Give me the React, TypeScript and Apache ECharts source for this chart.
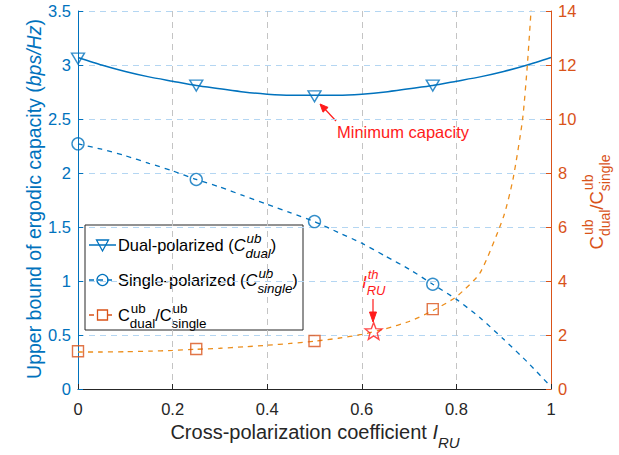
import React, { useEffect, useRef } from "react";
import * as echarts from "echarts";

// ---------- data ----------
const xFine = [0, 0.05, 0.1, 0.15, 0.2, 0.25, 0.3, 0.35, 0.4, 0.45, 0.5, 0.55, 0.6, 0.65, 0.7, 0.75, 0.8, 0.85, 0.9, 0.95, 1.0];
const dualCurve = [3.07, 3.0, 2.94, 2.89, 2.85, 2.81, 2.78, 2.75, 2.73, 2.72, 2.72, 2.72, 2.73, 2.75, 2.78, 2.81, 2.85, 2.89, 2.94, 3.0, 3.07];
const singleCurve = [2.27, 2.22, 2.16, 2.09, 2.02, 1.94, 1.87, 1.79, 1.71, 1.63, 1.55, 1.45, 1.35, 1.23, 1.11, 0.97, 0.83, 0.66, 0.46, 0.25, 0.02];
const ratioX = [0, 0.05, 0.1, 0.15, 0.2, 0.25, 0.3, 0.35, 0.4, 0.45, 0.5, 0.55, 0.6, 0.65, 0.7, 0.75, 0.8, 0.85, 0.9, 0.92, 0.94, 0.95, 0.96];
const ratioCurve = [1.37, 1.37, 1.38, 1.4, 1.43, 1.47, 1.51, 1.56, 1.62, 1.69, 1.77, 1.88, 2.02, 2.23, 2.5, 2.9, 3.42, 4.3, 6.4, 7.8, 10.0, 12.0, 14.6];
const markerX = [0, 0.25, 0.5, 0.75];
const dualMarkers = [3.06, 2.81, 2.71, 2.81];
const singleMarkers = [2.27, 1.94, 1.55, 0.97];
const ratioMarkers = [1.4, 1.48, 1.78, 2.96];
const thresholdX = [0.625];
const thresholdRatio = [2.15];

const FONT = '"Liberation Sans", Arial, Helvetica, sans-serif';
const BLUE = "#0072BD";
const ORANGE = "#D95319";
const LINE_ORANGE = "#EC8E1C";
const RED = "#FF1A1A";
const DARK = "#262626";

let measureCtx: CanvasRenderingContext2D | null = null;
function measure(text: string, size: number, italic: boolean) {
  if (!measureCtx) measureCtx = document.createElement("canvas").getContext("2d");
  measureCtx!.font = `${italic ? "italic " : ""}${size}px ${FONT}`;
  return measureCtx!.measureText(text).width;
}

type Part = { t?: string; sup?: string; sub?: string; italic?: boolean };

function layout(parts: Part[], base: number, small: number, color: string, supDy: number, subDy: number) {
  const els: any[] = [];
  let x = 0;
  const txt = (text: string, px: number, py: number, size: number, italic: boolean) => ({
    type: "text",
    x: px,
    y: py,
    style: {
      text,
      fill: color,
      fontSize: size,
      fontFamily: FONT,
      fontStyle: italic ? "italic" : "normal",
      verticalAlign: "middle",
      align: "left",
    },
  });
  for (const p of parts) {
    const it = !!p.italic;
    if (p.t !== undefined) {
      els.push(txt(p.t, x, 0, base, it));
      x += measure(p.t, base, it);
    } else {
      let w = 0;
      if (p.sup) {
        els.push(txt(p.sup, x + 1, supDy, small, it));
        w = Math.max(w, measure(p.sup, small, it) + 1);
      }
      if (p.sub) {
        els.push(txt(p.sub, x, subDy, small, it));
        w = Math.max(w, measure(p.sub, small, it));
      }
      x += w;
    }
  }
  return { els, width: x };
}

function placed(parts: Part[], base: number, small: number, color: string, supDy: number, subDy: number, x: number, y: number, anchor: "left" | "center", rotation = 0) {
  const { els, width } = layout(parts, base, small, color, supDy, subDy);
  const shift = anchor === "center" ? -width / 2 : 0;
  els.forEach((e) => (e.x += shift));
  return { type: "group", x, y, rotation, children: els };
}

export default function App() {
  const ref = useRef<HTMLDivElement>(null);

  useEffect(() => {
    if (!ref.current) return;
    const chart = echarts.init(ref.current, null, { renderer: "svg" });

    const triangleDown = (cx: number, cy: number) => ({
      type: "polygon",
      shape: { points: [[cx - 6, cy - 5], [cx + 6, cy - 5], [cx, cy + 6]] },
      style: { fill: "none", stroke: BLUE, lineWidth: 1.3 },
    });

    const legendRows = [245, 280, 315];
    const legendGraphic: any[] = [
      { type: "rect", shape: { x: 85, y: 225, width: 218, height: 105 }, style: { fill: "#fff", stroke: DARK, lineWidth: 1 } },
      { type: "line", shape: { x1: 89, y1: legendRows[0], x2: 116, y2: legendRows[0] }, style: { stroke: BLUE, lineWidth: 1.5 } },
      triangleDown(102.5, legendRows[0]),
      { type: "line", shape: { x1: 89, y1: legendRows[1], x2: 116, y2: legendRows[1] }, style: { stroke: BLUE, lineWidth: 1.3, lineDash: [5, 4] } },
      { type: "circle", shape: { cx: 102.5, cy: legendRows[1], r: 5.5 }, style: { fill: "none", stroke: BLUE, lineWidth: 1.3 } },
      { type: "line", shape: { x1: 89, y1: legendRows[2], x2: 116, y2: legendRows[2] }, style: { stroke: ORANGE, lineWidth: 1.3, lineDash: [5, 4] } },
      { type: "rect", shape: { x: 97.5, y: legendRows[2] - 5, width: 10, height: 10 }, style: { fill: "#fff", stroke: ORANGE, lineWidth: 1.3 } },
      placed([{ t: "Dual-polarized (" }, { t: "C", italic: true }, { sup: "ub", sub: "dual", italic: true }, { t: ")" }], 16.4, 13.4, "#000", -7, 8, 118, legendRows[0], "left"),
      placed([{ t: "Single-polarized (" }, { t: "C", italic: true }, { sup: "ub", sub: "single", italic: true }, { t: ")" }], 16.4, 13.4, "#000", -7, 8, 118, legendRows[1], "left"),
      placed([{ t: "C" }, { sup: "ub", sub: "dual" }, { t: "/C" }, { sup: "ub", sub: "single" }], 16.4, 13.4, "#000", -7, 8, 118, legendRows[2], "left"),
    ];

    const annotations: any[] = [
      // Minimum capacity arrow
      { type: "line", shape: { x1: 336, y1: 121, x2: 323, y2: 107 }, style: { stroke: RED, lineWidth: 1.2 } },
      { type: "polygon", shape: { points: [[320, 104], [328.1, 107.4], [323, 112.2]] }, style: { fill: RED, stroke: RED, lineWidth: 1 } },
      { type: "text", x: 337, y: 132, style: { text: "Minimum capacity", fill: RED, fontSize: 16.5, fontFamily: FONT, verticalAlign: "middle" } },
      // threshold label and arrow
      placed([{ t: "I", italic: true }, { sup: "th", sub: "RU", italic: true }], 17, 13, RED, -8, 8, 362, 282, "left"),
      { type: "line", shape: { x1: 373, y1: 299, x2: 373, y2: 316 }, style: { stroke: RED, lineWidth: 1.2 } },
      { type: "polygon", shape: { points: [[373, 322], [369.5, 312], [376.5, 312]] }, style: { fill: RED, stroke: RED, lineWidth: 1 } },
    ];

    const titles: any[] = [
      placed([{ t: "Cross-polarization coefficient " }, { t: "I", italic: true }, { sub: "RU", italic: true }], 20, 15, DARK, -8, 10, 315, 432, "center"),
      placed([{ t: "Upper bound of ergodic capacity (" }, { t: "bps/Hz", italic: true }, { t: ")" }], 19.5, 15, BLUE, -8, 8, 34, 199, "center", Math.PI / 2),
      placed([{ t: "C" }, { sup: "ub", sub: "dual" }, { t: "/C" }, { sup: "ub", sub: "single" }], 18.5, 14, ORANGE, -8, 9, 596, 202, "center", Math.PI / 2),
    ];

    const option: any = {
      animation: false,
      backgroundColor: "#fff",
      grid: { left: 78, right: 68, top: 11, bottom: 66, containLabel: false },
      xAxis: {
        type: "value",
        min: 0,
        max: 1,
        interval: 0.2,
        axisLine: { show: true, lineStyle: { color: DARK, width: 1 } },
        axisTick: { show: true, inside: true, length: 5, lineStyle: { color: DARK } },
        axisLabel: { color: DARK, fontSize: 16.5, fontFamily: FONT, margin: 11 },
        splitLine: { show: true, lineStyle: { color: "#c4c4c4", type: [6, 5], width: 1 } },
      },
      yAxis: [
        {
          type: "value",
          min: 0,
          max: 3.5,
          interval: 0.5,
          position: "left",
          axisLine: { show: true, onZero: false, lineStyle: { color: BLUE, width: 1 } },
          axisTick: { show: true, inside: true, length: 5, lineStyle: { color: BLUE } },
          axisLabel: { color: BLUE, fontSize: 16.5, fontFamily: FONT, margin: 7 },
          splitLine: { show: true, lineStyle: { color: "#b4d6f2", type: [6, 5], width: 1 } },
        },
        {
          type: "value",
          min: 0,
          max: 14,
          interval: 2,
          position: "right",
          axisLine: { show: true, onZero: false, lineStyle: { color: ORANGE, width: 1 } },
          axisTick: { show: true, inside: true, length: 5, lineStyle: { color: ORANGE } },
          axisLabel: { color: ORANGE, fontSize: 16.5, fontFamily: FONT, margin: 7 },
          splitLine: { show: false },
        },
      ],
      series: [
        {
          name: "Dual-polarized",
          type: "line",
          yAxisIndex: 0,
          data: xFine.map((x, i) => [x, dualCurve[i]]),
          showSymbol: false,
          smooth: 0.2,
          lineStyle: { color: BLUE, width: 1.5 },
        },
        {
          name: "Single-polarized",
          type: "line",
          yAxisIndex: 0,
          data: xFine.map((x, i) => [x, singleCurve[i]]),
          showSymbol: false,
          smooth: 0.2,
          lineStyle: { color: BLUE, width: 1.3, type: [5, 5] },
        },
        {
          name: "Ratio",
          type: "line",
          yAxisIndex: 1,
          data: ratioX.map((x, i) => [x, ratioCurve[i]]),
          showSymbol: false,
          smooth: 0.2,
          lineStyle: { color: LINE_ORANGE, width: 1.3, type: [5, 5] },
        },
        {
          type: "scatter",
          yAxisIndex: 0,
          data: markerX.map((x, i) => [x, dualMarkers[i]]),
          symbol: "triangle",
          symbolRotate: 180,
          symbolSize: [13, 11],
          itemStyle: { color: "rgba(0,0,0,0)", borderColor: BLUE, borderWidth: 1.4 },
          z: 5,
        },
        {
          type: "scatter",
          yAxisIndex: 0,
          data: markerX.map((x, i) => [x, singleMarkers[i]]),
          symbol: "circle",
          symbolSize: 12,
          itemStyle: { color: "rgba(0,0,0,0)", borderColor: BLUE, borderWidth: 1.4 },
          z: 5,
        },
        {
          type: "scatter",
          yAxisIndex: 1,
          data: markerX.map((x, i) => [x, ratioMarkers[i]]),
          symbol: "rect",
          symbolSize: 11,
          itemStyle: { color: "rgba(0,0,0,0)", borderColor: ORANGE, borderWidth: 1.4 },
          z: 5,
        },
        {
          type: "scatter",
          yAxisIndex: 1,
          data: thresholdX.map((x, i) => [x, thresholdRatio[i]]),
          symbol: "path://M12,1 L14.9,8.6 L23,9 L16.7,14.1 L18.8,22 L12,17.5 L5.2,22 L7.3,14.1 L1,9 L9.1,8.6 Z",
          symbolSize: 17,
          itemStyle: { color: "rgba(0,0,0,0)", borderColor: RED, borderWidth: 1.4 },
          z: 6,
        },
      ],
      graphic: [...titles, ...annotations, ...legendGraphic],
    };

    chart.setOption(option);
    return () => chart.dispose();
  }, []);

  return <div ref={ref} style={{ position: "fixed", left: 0, top: 0, width: 619, height: 455 }} />;
}
